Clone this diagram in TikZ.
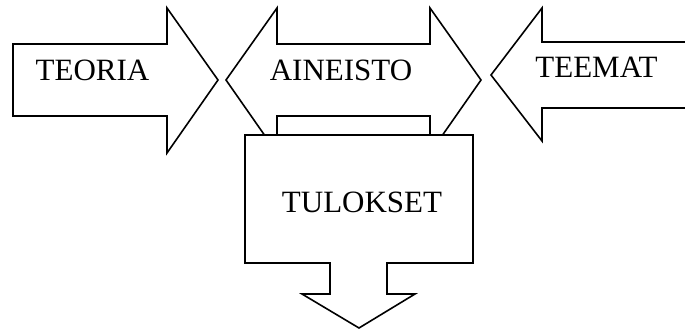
\documentclass[tikz,border=0pt]{standalone}
\usepackage{fontspec}
\setmainfont{Liberation Serif}
\begin{document}
\begin{tikzpicture}[x=1pt,y=-1pt,
  shapeline/.style={draw=black,line width=1.6pt,fill=white,line join=miter},
  lbl/.style={anchor=base,inner sep=0pt,font=\fontsize{31}{37}\selectfont}]
\useasboundingbox (0,0) rectangle (685,331);
% TEORIA: arrow pointing right
\draw[shapeline] (13,44) -- (167,44) -- (167,8) -- (218,80) -- (167,153)
  -- (167,116) -- (13,116) -- cycle;
% AINEISTO: double-headed arrow
\draw[shapeline] (226,80) -- (277,8) -- (277,44) -- (430,44) -- (430,8)
  -- (481,80) -- (430,153) -- (430,116) -- (277,116) -- (277,153) -- cycle;
% TEEMAT: arrow pointing left, running off the right edge
\draw[shapeline] (690,42) -- (542,42) -- (542,8) -- (491,75) -- (542,141)
  -- (542,108) -- (690,108);
% TULOKSET: box with a downward arrow
\draw[shapeline] (245,135) -- (473,135) -- (473,263) -- (387,263) -- (387,294)
  -- (415,294) -- (359,328) -- (302,294) -- (330,294) -- (330,263)
  -- (245,263) -- cycle;
\node[lbl] (teoria) at (92.5,81) {TEORIA};
\node[lbl] (aineisto) at (341,81) {AINEISTO};
\node[lbl] (teemat) at (596.5,78) {TEEMAT};
\node[lbl] (tulokset) at (362,212) {TULOKSET};
\end{tikzpicture}
\end{document}
